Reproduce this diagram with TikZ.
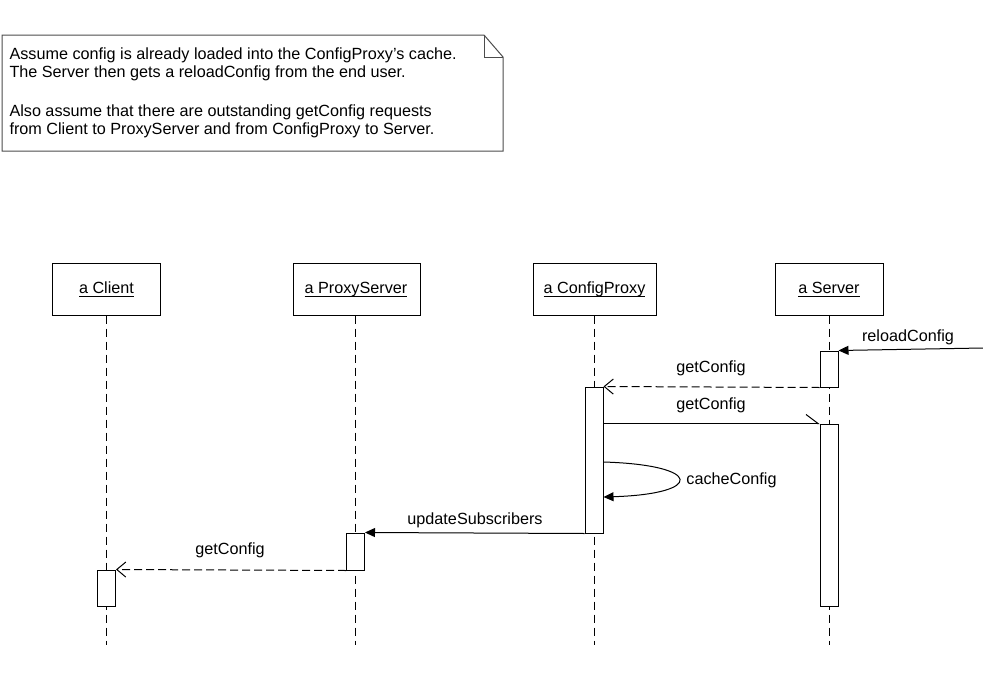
\documentclass[tikz,border=0pt]{standalone}
\usepackage{fontspec}
\setmainfont{Liberation Sans}
\usetikzlibrary{arrows.meta}
% underlined object name with a rule at a fixed depth
\newcommand\objname[1]{\setbox0\hbox{#1}\rlap{\rule[-3.5pt]{\wd0}{1pt}}\box0}
\begin{document}
\begin{tikzpicture}[x=1pt,y=-1pt,line width=1pt,
  font=\fontsize{16.2}{18}\selectfont,
  head/.style={draw,minimum height=52pt,inner sep=0pt},
  act/.style={draw,fill=white,minimum width=18pt,inner sep=0pt},
  lifeline/.style={dash pattern=on 8pt off 5pt},
  reply/.style={dash pattern=on 8pt off 4pt},
  msglabel/.style={anchor=base,inner sep=0pt},
  filled/.style={-{Triangle[length=10pt,width=9pt]}},
  open/.style={-{Straight Barb[length=9pt,width=15pt]}},
  halfopen/.style={-{Straight Barb[left,length=12pt,width=18pt]}}]
\useasboundingbox (0,0) rectangle (983,680);

% note with folded corner
\draw[black!70] (2,35) -- (484,35) -- (503,57) -- (503,151) -- (2,151) -- cycle;
\draw[black!70] (484,35) -- (484,57) -- (503,57);
\node[anchor=base west,inner sep=0pt] (n1) at (9,59) {Assume config is already loaded into the ConfigProxy's cache.};
\node[anchor=base west,inner sep=0pt] (n2) at (9,77) {The Server then gets a reloadConfig from the end user.};
\node[anchor=base west,inner sep=0pt] (n3) at (9,116) {Also assume that there are outstanding getConfig requests};
\node[anchor=base west,inner sep=0pt] (n4) at (9,134) {from Client to ProxyServer and from ConfigProxy to Server.};

% object heads
\node[head,minimum width=108pt] (client) at (106,289) {};
\node[head,minimum width=127pt] (proxysrv) at (356.5,289) {};
\node[head,minimum width=123pt] (cfgproxy) at (594.5,289) {};
\node[head,minimum width=108pt] (server) at (829,289) {};
\node[msglabel] (tclient) at (106.5,293) {\objname{a Client}};
\node[msglabel] (tproxysrv) at (356,293) {\objname{a ProxyServer}};
\node[msglabel] (tcfgproxy) at (594.5,293) {\objname{a ConfigProxy}};
\node[msglabel] (tserver) at (829,293) {\objname{a Server}};

% lifelines
\coordinate (clientEnd) at (106.5,645);
\coordinate (proxysrvEnd) at (355.5,645);
\coordinate (cfgproxyEnd) at (594,645);
\coordinate (serverEnd) at (829,645);
\draw[lifeline] (client.south -| clientEnd) -- (clientEnd);
\draw[lifeline] (proxysrv.south -| proxysrvEnd) -- (proxysrvEnd);
\draw[lifeline] (cfgproxy.south -| cfgproxyEnd) -- (cfgproxyEnd);
\draw[lifeline] (server.south -| serverEnd) -- (serverEnd);

% activations
\node[act,minimum height=36pt] (srvA) at (829,369) {};
\node[act,minimum height=182pt] (srvB) at (829,515) {};
\node[act,minimum height=146pt] (cpA) at (594,460) {};
\node[act,minimum height=37pt] (psA) at (355.5,551.5) {};
\node[act,minimum height=36pt] (clA) at (106.5,588) {};

% messages
\coordinate (user) at (983,348);
\draw[filled] (user) -- (srvA.north east);
\node[msglabel] (lreload) at (908,341) {reloadConfig};

\draw[reply,open] (srvA.south west) -- (cpA.north east);
\node[msglabel] (lget1) at (711,372) {getConfig};

\draw[halfopen] (srvB.north west -| cpA.east) -- (srvB.north west);
\node[msglabel] (lget2) at (711,409) {getConfig};

\coordinate (selfOut) at (0,462);
\coordinate (selfIn) at (0,497);
\draw[filled] (cpA.east |- selfOut) .. controls (704,465) and (704,494) .. (cpA.east |- selfIn);
\node[msglabel] (lcache) at (731.5,484) {cacheConfig};

\draw[filled] (cpA.south west) -- (psA.north east);
\node[msglabel] (lupdate) at (475,524) {updateSubscribers};

\draw[reply,open] (psA.south west) -- (clA.north east);
\node[msglabel] (lget3) at (230,554) {getConfig};
\end{tikzpicture}
\end{document}
